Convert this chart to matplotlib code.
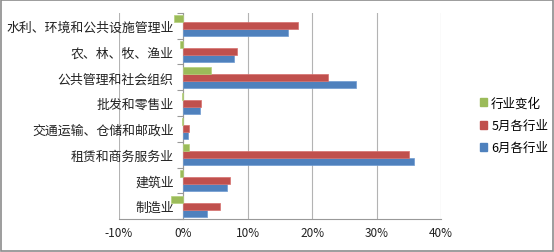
import numpy as np
import matplotlib.pyplot as plt
from matplotlib.patches import Rectangle, Patch

plt.rcParams['font.family'] = ['Noto Sans CJK SC', 'DejaVu Sans']

categories = ['制造业', '建筑业', '租赁和商务服务业', '交通运输、仓储和邮政业',
              '批发和零售业', '公共管理和社会组织', '农、林、牧、渔业', '水利、环境和公共设施管理业']
june = [3.7, 6.8, 35.8, 0.7, 2.6, 26.8, 7.8, 16.3]
may = [5.7, 7.3, 35.0, 0.9, 2.8, 22.5, 8.4, 17.8]
change = [-2.0, -0.5, 0.8, -0.2, -0.2, 4.3, -0.6, -1.5]
xticks = [-10, 0, 10, 20, 30, 40]

blue = '#4F81BD'
red = '#C0504D'
green = '#9BBB59'

fig = plt.figure(figsize=(5.54, 2.53), dpi=100)
ax = fig.add_axes([0.2148, 0.1304, 0.796 - 0.2148, 0.9447 - 0.1304])

y = np.arange(len(categories))
h = 0.27
ax.barh(y - h, june, height=h, color=blue, edgecolor='#6f9bd1', linewidth=0.5, zorder=3)
ax.barh(y, may, height=h, color=red, edgecolor='#d6706d', linewidth=0.5, zorder=3)
ax.barh(y + h, change, height=h, color=green, edgecolor='#b5d17a', linewidth=0.5, zorder=3)

ax.set_xlim(-10, 40)
ax.set_ylim(-0.5, 7.5)
ax.set_xticks(xticks)
ax.set_xticklabels([f'{v}%' for v in xticks])
ax.tick_params(axis='x', length=0, pad=5, labelsize=8.5, labelcolor='#222222')
ax.xaxis.grid(True, color='#b3b3b3', linewidth=0.8, zorder=0)

ax.set_yticks(y)
ax.set_yticklabels(categories)
ax.set_yticks(np.arange(-0.5, 8, 1), minor=True)
ax.tick_params(axis='y', which='major', length=0, pad=7, labelsize=9.3, labelcolor='#222222')
ax.tick_params(axis='y', which='minor', length=4, color='#999999', width=0.8)

ax.spines['left'].set_position(('data', 0))
ax.spines['left'].set_color('#999999')
ax.spines['bottom'].set_color('#999999')
ax.spines['top'].set_visible(False)
ax.spines['right'].set_visible(False)

handles = [Patch(color=green), Patch(color=red), Patch(color=blue)]
fig.legend(handles, ['行业变化', '5月各行业', '6月各行业'],
           loc='center left', bbox_to_anchor=(0.846, 0.5), frameon=False,
           fontsize=9, handlelength=0.6, handleheight=0.6, handletextpad=0.3,
           labelspacing=0.75)

fig.patches.append(Rectangle((0.001, 0.002), 0.997, 0.995, transform=fig.transFigure,
                             fill=False, edgecolor='#8c8c8c', linewidth=1.2))

fig.savefig('out.png', dpi=100)
